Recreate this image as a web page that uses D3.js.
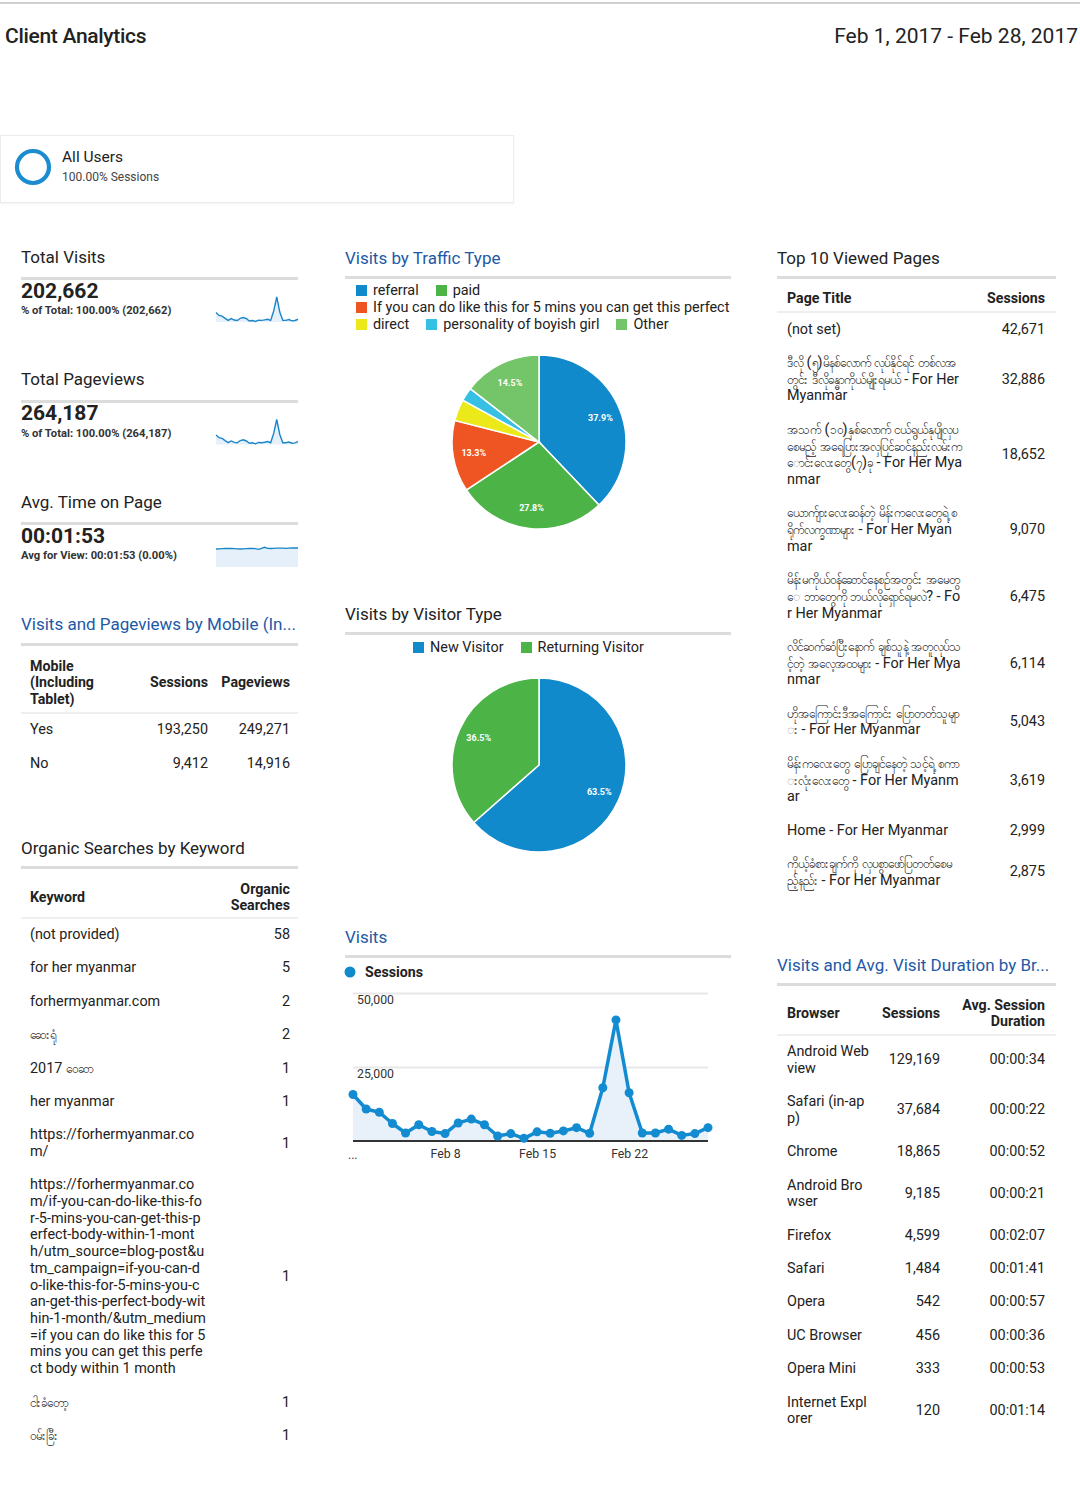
<!DOCTYPE html>
<html><head><meta charset="utf-8">
<script src="https://cdn.jsdelivr.net/npm/d3@7"></script>
<style>
html,body{margin:0;padding:0}
body{width:1080px;height:1504px;background:#fff;font-family:Roboto,"Noto Sans",sans-serif;color:#222;position:relative;overflow:hidden}
.abs{position:absolute;white-space:nowrap}
.sec{position:absolute;font-size:17px;line-height:20px;white-space:nowrap}
.rule{position:absolute;height:3px;background:#dcdcdc}
table.t{position:absolute;border-collapse:collapse;table-layout:fixed;font-size:14.4px;color:#222}
.t th{font-weight:700;font-size:14.2px;line-height:16.3px;vertical-align:middle;padding:0 0 5px 0;border-bottom:2px solid #efefef;color:#222}
.t td{line-height:16.7px;padding:8.35px 0;vertical-align:middle;word-break:break-all}
.my{font-size:12px;line-height:16.7px;vertical-align:top}
.leg{position:absolute;display:flex;flex-wrap:wrap;font-size:14.4px;line-height:17px}
.leg .it{display:flex;align-items:center;margin-right:17px;white-space:nowrap}
.leg .sw{width:11px;height:11px;margin-right:6px;flex:none}
svg#g{position:absolute;left:0;top:0}
</style></head><body>
<script>
// ---------- DATA ----------
const reportTitle = "Client Analytics";
const dateRange = "Feb 1, 2017 - Feb 28, 2017";
const segmentName = "All Users";
const segmentShare = "100.00% Sessions";

const kpiLabels = ["Total Visits", "Total Pageviews", "Avg. Time on Page"];
const kpiValues = ["202,662", "264,187", "00:01:53"];
const kpiNotes = ["% of Total: 100.00% (202,662)", "% of Total: 100.00% (264,187)", "Avg for View: 00:01:53 (0.00%)"];

const dayLabels = ["Feb 1","Feb 2","Feb 3","Feb 4","Feb 5","Feb 6","Feb 7","Feb 8","Feb 9","Feb 10",
  "Feb 11","Feb 12","Feb 13","Feb 14","Feb 15","Feb 16","Feb 17","Feb 18","Feb 19","Feb 20",
  "Feb 21","Feb 22","Feb 23","Feb 24","Feb 25","Feb 26","Feb 27","Feb 28"];
const sessions = [15700,10800,9700,5900,2700,5500,3200,2500,6100,7400,5500,1700,2500,900,3100,2600,
  3400,4500,2600,18000,40900,16300,2700,2700,4000,1900,2500,4500];
const pageviewsDaily = [19800,14300,12800,8200,3900,7400,4400,3500,8300,9900,7400,2500,3600,1400,4300,3700,
  4700,6100,3700,23300,52600,21100,3800,3700,5300,2700,3500,6000];
const avgTimeDaily = [108,109,110,111,112,111,110,109,108,109,110,111,112,110,106,112,118,112,111,112,
  113,113,113,112,113,114,114,114];
const sessionTicks = [25000, 50000];
const dateTicks = ["Feb 8", "Feb 15", "Feb 22"];

const trafficLabels = ["referral", "paid", "If you can do like this for 5 mins you can get this perfect", "direct", "personality of boyish girl", "Other"];
const trafficShares = [37.9, 27.8, 13.3, 4.0, 2.5, 14.5];
const trafficColors = ["#118acb", "#4cb347", "#ef5423", "#ebe91a", "#36c0e3", "#74c46a"];

const visitorLabels = ["New Visitor", "Returning Visitor"];
const visitorShares = [63.5, 36.5];
const visitorColors = ["#118acb", "#4cb347"];

const mobileTitle = "Visits and Pageviews by Mobile (In...";
const mobileHeader = ["Mobile (Including Tablet)", "Sessions", "Pageviews"];
const mobileRows = ["Yes", "No"];
const mobileSessions = ["193,250", "9,412"];
const mobilePageviews = ["249,271", "14,916"];

const keywordHeader = ["Keyword", "Organic Searches"];
const keywords = ["(not provided)", "for her myanmar", "forhermyanmar.com", "ဆေးရုံ", "2017 ဝေဆာ", "her myanmar",
  "https://forhermyanmar.com/",
  "https://forhermyanmar.com/if-you-can-do-like-this-for-5-mins-you-can-get-this-perfect-body-within-1-month/utm_source=blog-post&utm_campaign=if-you-can-do-like-this-for-5-mins-you-can-get-this-perfect-body-within-1-month/&utm_medium=if you can do like this for 5 mins you can get this perfect body within 1 month",
  "ငါးခံတော့", "ဝမ်းခြီး"];
const keywordSearches = ["58", "5", "2", "2", "1", "1", "1", "1", "1", "1"];

const pageHeader = ["Page Title", "Sessions"];
const pageTitles = ["(not set)",
  "ဒီလို (၅)မိနစ်လောက် လုပ်နိုင်ရင် တစ်လအတွင်း ဒီလိုခန္ဓာကိုယ်မျိုးရမယ် - For Her Myanmar",
  "အသက် (၁၀)နှစ်လောက် ငယ်ရွယ်နုပျိုလှပစေမည့် အရေပြားအလှပြင်ဆင်နည်းလမ်းကောင်းလေးတွေ(၇)ခု - For Her Myanmar",
  "ယောက်ျားလေးဆန်တဲ့ မိန်းကလေးတွေရဲ့ စရိုက်လက္ခဏာများ - For Her Myanmar",
  "မိန်းမကိုယ်ဝန်ဆောင်နေစဉ်အတွင်း အမေတွေ ဘာတွေကို ဘယ်လိုရှောင်ရမလဲ? - For Her Myanmar",
  "လိင်ဆက်ဆံပြီးနောက် ချစ်သူနဲ့ အတူလုပ်သင့်တဲ့ အလေ့အထများ - For Her Myanmar",
  "ဟိုအကြောင်းဒီအကြောင်း ပြောတတ်သူများ - For Her Myanmar",
  "မိန်းကလေးတွေ ပြောချင်နေတဲ့ သင့်ရဲ့ စကားလုံးလေးတွေ - For Her Myanmar",
  "Home - For Her Myanmar",
  "ကိုယ့်ခံစားချက်ကို လှပစွာဖော်ပြတတ်စေမည့်နည်း - For Her Myanmar"];
const pageSessions = ["42,671", "32,886", "18,652", "9,070", "6,475", "6,114", "5,043", "3,619", "2,999", "2,875"];

const browserTitle = "Visits and Avg. Visit Duration by Br...";
const browserHeader = ["Browser", "Sessions", "Avg. Session Duration"];
const browsers = ["Android Webview", "Safari (in-app)", "Chrome", "Android Browser", "Firefox", "Safari", "Opera", "UC Browser", "Opera Mini", "Internet Explorer"];
const browserSessions = ["129,169", "37,684", "18,865", "9,185", "4,599", "1,484", "542", "456", "333", "120"];
const browserDurations = ["00:00:34", "00:00:22", "00:00:52", "00:00:21", "00:02:07", "00:01:41", "00:00:57", "00:00:36", "00:00:53", "00:01:14"];

// ---------- LAYOUT HELPERS ----------
const body = d3.select("body");
const BLUE_T = "#2259a6";
const MY_RUN = /([\u1000-\u109F]+)/;

function text(x, yc, str, size, opts = {}) {
  const d = body.append("div").attr("class", "abs").text(str)
    .style("font-size", size + "px").style("line-height", (size + 4) + "px")
    .style("top", (yc - (size + 4) / 2) + "px");
  if (opts.right != null) d.style("right", opts.right + "px"); else d.style("left", x + "px");
  if (opts.weight) d.style("font-weight", opts.weight);
  if (opts.color) d.style("color", opts.color);
  if (opts.ls) d.style("letter-spacing", opts.ls);
  return d;
}
function section(x, yc, w, str, ruleY, color) {
  body.append("div").attr("class", "sec").text(str)
    .style("left", x + "px").style("top", (yc - 10) + "px")
    .style("color", color || "#222");
  body.append("div").attr("class", "rule").style("left", x + "px").style("top", ruleY + "px").style("width", w + "px");
}
function fill(cell, str) {
  str.split(MY_RUN).forEach((part, k) => {
    if (!part) return;
    if (k % 2 === 1) cell.append("span").attr("class", "my").text(part);
    else cell.append("span").text(part);
  });
}
function table(left, top, width, cols, header, rows, hpad) {
  const t = body.append("table").attr("class", "t").style("left", left + "px").style("top", top + "px").style("width", width + "px");
  const cg = t.append("colgroup");
  cols.forEach(c => cg.append("col").style("width", c.w + "px"));
  const hr = t.append("thead").append("tr");
  header.forEach((h, i) => hr.append("th").text(h).style("text-align", cols[i].align)
    .style("padding-left", (cols[i].pl || 0) + "px").style("padding-right", (cols[i].pr || 0) + "px")
    .style("padding-bottom", hpad + "px"));
  const tb = t.append("tbody");
  rows.forEach(r => {
    const tr = tb.append("tr");
    r.forEach((v, i) => {
      const td = tr.append("td").style("text-align", cols[i].align)
        .style("padding-left", (cols[i].pl || 0) + "px").style("padding-right", (cols[i].pr || 0) + "px");
      fill(td, v);
    });
  });
  return t;
}

// ---------- HEADER ----------
body.append("div").style("position", "absolute").style("left", "0px").style("top", "2px")
  .style("width", "1080px").style("height", "2px").style("background", "#d0d0d0");
text(5, 36, reportTitle, 21, { weight: 500, ls: "-0.3px" });
text(0, 36, dateRange, 21, { right: 2, weight: 400 });

body.append("div").style("position", "absolute").style("left", "0px").style("top", "135px")
  .style("width", "512px").style("height", "66px").style("border", "1px solid #ececec")
  .style("box-shadow", "0 1px 2px rgba(0,0,0,0.06)");
text(62, 158, segmentName, 15.5);
text(62, 177, segmentShare, 12, { color: "#444" });

// ---------- SVG LAYER ----------
const svg = body.append("svg").attr("id", "g").attr("width", 1080).attr("height", 1504);
svg.append("circle").attr("cx", 33).attr("cy", 167).attr("r", 16).attr("fill", "none")
  .attr("stroke", "#1a8ccf").attr("stroke-width", 4.2);

// ---------- KPI COLUMN ----------
const kpiSeries = [sessions, pageviewsDaily, avgTimeDaily];
kpiLabels.forEach((lab, i) => {
  const base = 257 + i * 122.5;
  text(21, base, lab, 17);
  body.append("div").attr("class", "rule").style("left", "21px").style("top", (base + 20) + "px").style("width", "277px");
  text(21, base + 34, kpiValues[i], 21, { weight: 700 });
  text(21, base + 54, kpiNotes[i], 11.2, { weight: 700, color: "#333" });
  const data = kpiSeries[i];
  const sx = d3.scalePoint().domain(dayLabels).range([216, 298]);
  const top = base + 40, bot = base + 65;
  const sy = d3.scaleLinear().domain([0, i === 2 ? 150 : d3.max(data)]).range([bot, top]);
  const g = svg.append("g");
  g.append("path").datum(data).attr("fill", "#e5f0fa")
    .attr("d", d3.area().x((d, j) => sx(dayLabels[j])).y0(bot).y1(d => sy(d)));
  g.append("path").datum(data).attr("fill", "none").attr("stroke", "#1a86c8").attr("stroke-width", 1.4)
    .attr("d", d3.line().x((d, j) => sx(dayLabels[j])).y(d => sy(d)));
});

// ---------- MOBILE TABLE ----------
section(21, 624, 277, mobileTitle, 643, BLUE_T);
table(21, 658, 277,
  [{ w: 115, align: "left", pl: 9 }, { w: 72, align: "right" }, { w: 90, align: "right", pr: 8 }],
  mobileHeader, mobileRows.map((r, i) => [r, mobileSessions[i], mobilePageviews[i]]), 5);

// ---------- ORGANIC TABLE ----------
section(21, 848, 277, "Organic Searches by Keyword", 866);
table(21, 881, 277,
  [{ w: 190, align: "left", pl: 9, pr: 5 }, { w: 87, align: "right", pr: 8 }],
  keywordHeader, keywords.map((k, i) => [k, keywordSearches[i]]), 3);

// ---------- TRAFFIC PIE ----------
section(345, 258, 386, "Visits by Traffic Type", 276, BLUE_T);
const leg1 = body.append("div").attr("class", "leg").style("left", "356px").style("top", "282px").style("width", "400px");
trafficLabels.forEach((l, i) => {
  const it = leg1.append("div").attr("class", "it");
  it.append("div").attr("class", "sw").style("background", trafficColors[i]);
  it.append("span").text(l);
});
function pie(cx, cy, r, shares, colors) {
  const arcs = d3.pie().sort(null).value(d => d)(shares);
  const arc = d3.arc().innerRadius(0).outerRadius(r);
  const lab = d3.arc().innerRadius(r * 0.76).outerRadius(r * 0.76);
  const g = svg.append("g").attr("transform", `translate(${cx},${cy})`);
  g.selectAll("path").data(arcs).join("path").attr("d", arc)
    .attr("fill", (d, i) => colors[i]).attr("stroke", "#fff").attr("stroke-width", 1.5);
  g.selectAll("text").data(arcs.filter(d => d.data >= 5)).join("text")
    .attr("transform", d => `translate(${lab.centroid(d)})`)
    .attr("text-anchor", "middle").attr("dy", "0.35em")
    .attr("fill", "#fff").attr("font-size", 9).attr("font-weight", 700)
    .attr("font-family", "Roboto, sans-serif")
    .text(d => d.data.toFixed(1) + "%");
}
pie(539, 442, 87, trafficShares, trafficColors);

// ---------- VISITOR PIE ----------
section(345, 614, 386, "Visits by Visitor Type", 632);
const leg2 = body.append("div").attr("class", "leg").style("left", "413px").style("top", "639px").style("width", "320px");
visitorLabels.forEach((l, i) => {
  const it = leg2.append("div").attr("class", "it");
  it.append("div").attr("class", "sw").style("background", visitorColors[i]);
  it.append("span").text(l);
});
pie(539, 765, 87, visitorShares, visitorColors);

// ---------- SESSIONS LINE CHART ----------
section(345, 937, 386, "Visits", 955, BLUE_T);
svg.append("circle").attr("cx", 350).attr("cy", 972).attr("r", 5.5).attr("fill", "#118acb");
text(365, 972, "Sessions", 14.2, { weight: 700 });

const x = d3.scalePoint().domain(dayLabels).range([353, 708]);
const y = d3.scaleLinear().domain([0, 50000]).range([1141, 993]);
const yAxis = svg.append("g").attr("transform", "translate(353,0)")
  .call(d3.axisRight(y).tickValues(sessionTicks).tickSize(355).tickFormat(d3.format(",")));
yAxis.select(".domain").remove();
yAxis.selectAll(".tick line").attr("stroke", "#e8e8e8").attr("stroke-width", 2);
yAxis.selectAll(".tick text").attr("x", 4).attr("dy", 10).attr("text-anchor", "start")
  .attr("font-size", 12.3).attr("fill", "#333").attr("font-family", "Roboto, sans-serif");
svg.append("path").datum(sessions).attr("fill", "#e8f0fa")
  .attr("d", d3.area().x((d, i) => x(dayLabels[i])).y0(y(0)).y1(d => y(d)));
svg.append("line").attr("x1", 353).attr("x2", 708).attr("y1", y(0)).attr("y2", y(0))
  .attr("stroke", "#333").attr("stroke-width", 2);
svg.append("path").datum(sessions).attr("fill", "none").attr("stroke", "#138bd0").attr("stroke-width", 3.5)
  .attr("stroke-linejoin", "round")
  .attr("d", d3.line().x((d, i) => x(dayLabels[i])).y(d => y(d)));
svg.selectAll("circle.pt").data(sessions).join("circle").attr("class", "pt")
  .attr("cx", (d, i) => x(dayLabels[i])).attr("cy", d => y(d)).attr("r", 4.5).attr("fill", "#138bd0");
const xAxis = svg.append("g").attr("transform", `translate(0,${y(0)})`)
  .call(d3.axisBottom(x).tickValues(dateTicks).tickSize(0));
xAxis.select(".domain").remove();
xAxis.selectAll(".tick text").attr("dy", 14).attr("font-size", 12.3).attr("fill", "#333")
  .attr("font-family", "Roboto, sans-serif");
svg.append("text").attr("x", 348).attr("y", 1159).attr("font-size", 12).attr("fill", "#333").text("...");

// ---------- TOP PAGES ----------
section(777, 258, 279, "Top 10 Viewed Pages", 276);
table(777, 290, 279,
  [{ w: 190, align: "left", pl: 10, pr: 5 }, { w: 89, align: "right", pr: 11 }],
  pageHeader, pageTitles.map((p, i) => [p, pageSessions[i]]), 5);

// ---------- BROWSERS ----------
section(777, 965, 279, browserTitle, 983, BLUE_T);
table(777, 997, 279,
  [{ w: 94, align: "left", pl: 10, pr: 1 }, { w: 69, align: "right" }, { w: 116, align: "right", pr: 11 }],
  browserHeader, browsers.map((b, i) => [b, browserSessions[i], browserDurations[i]]), 4);
</script>
</body></html>
